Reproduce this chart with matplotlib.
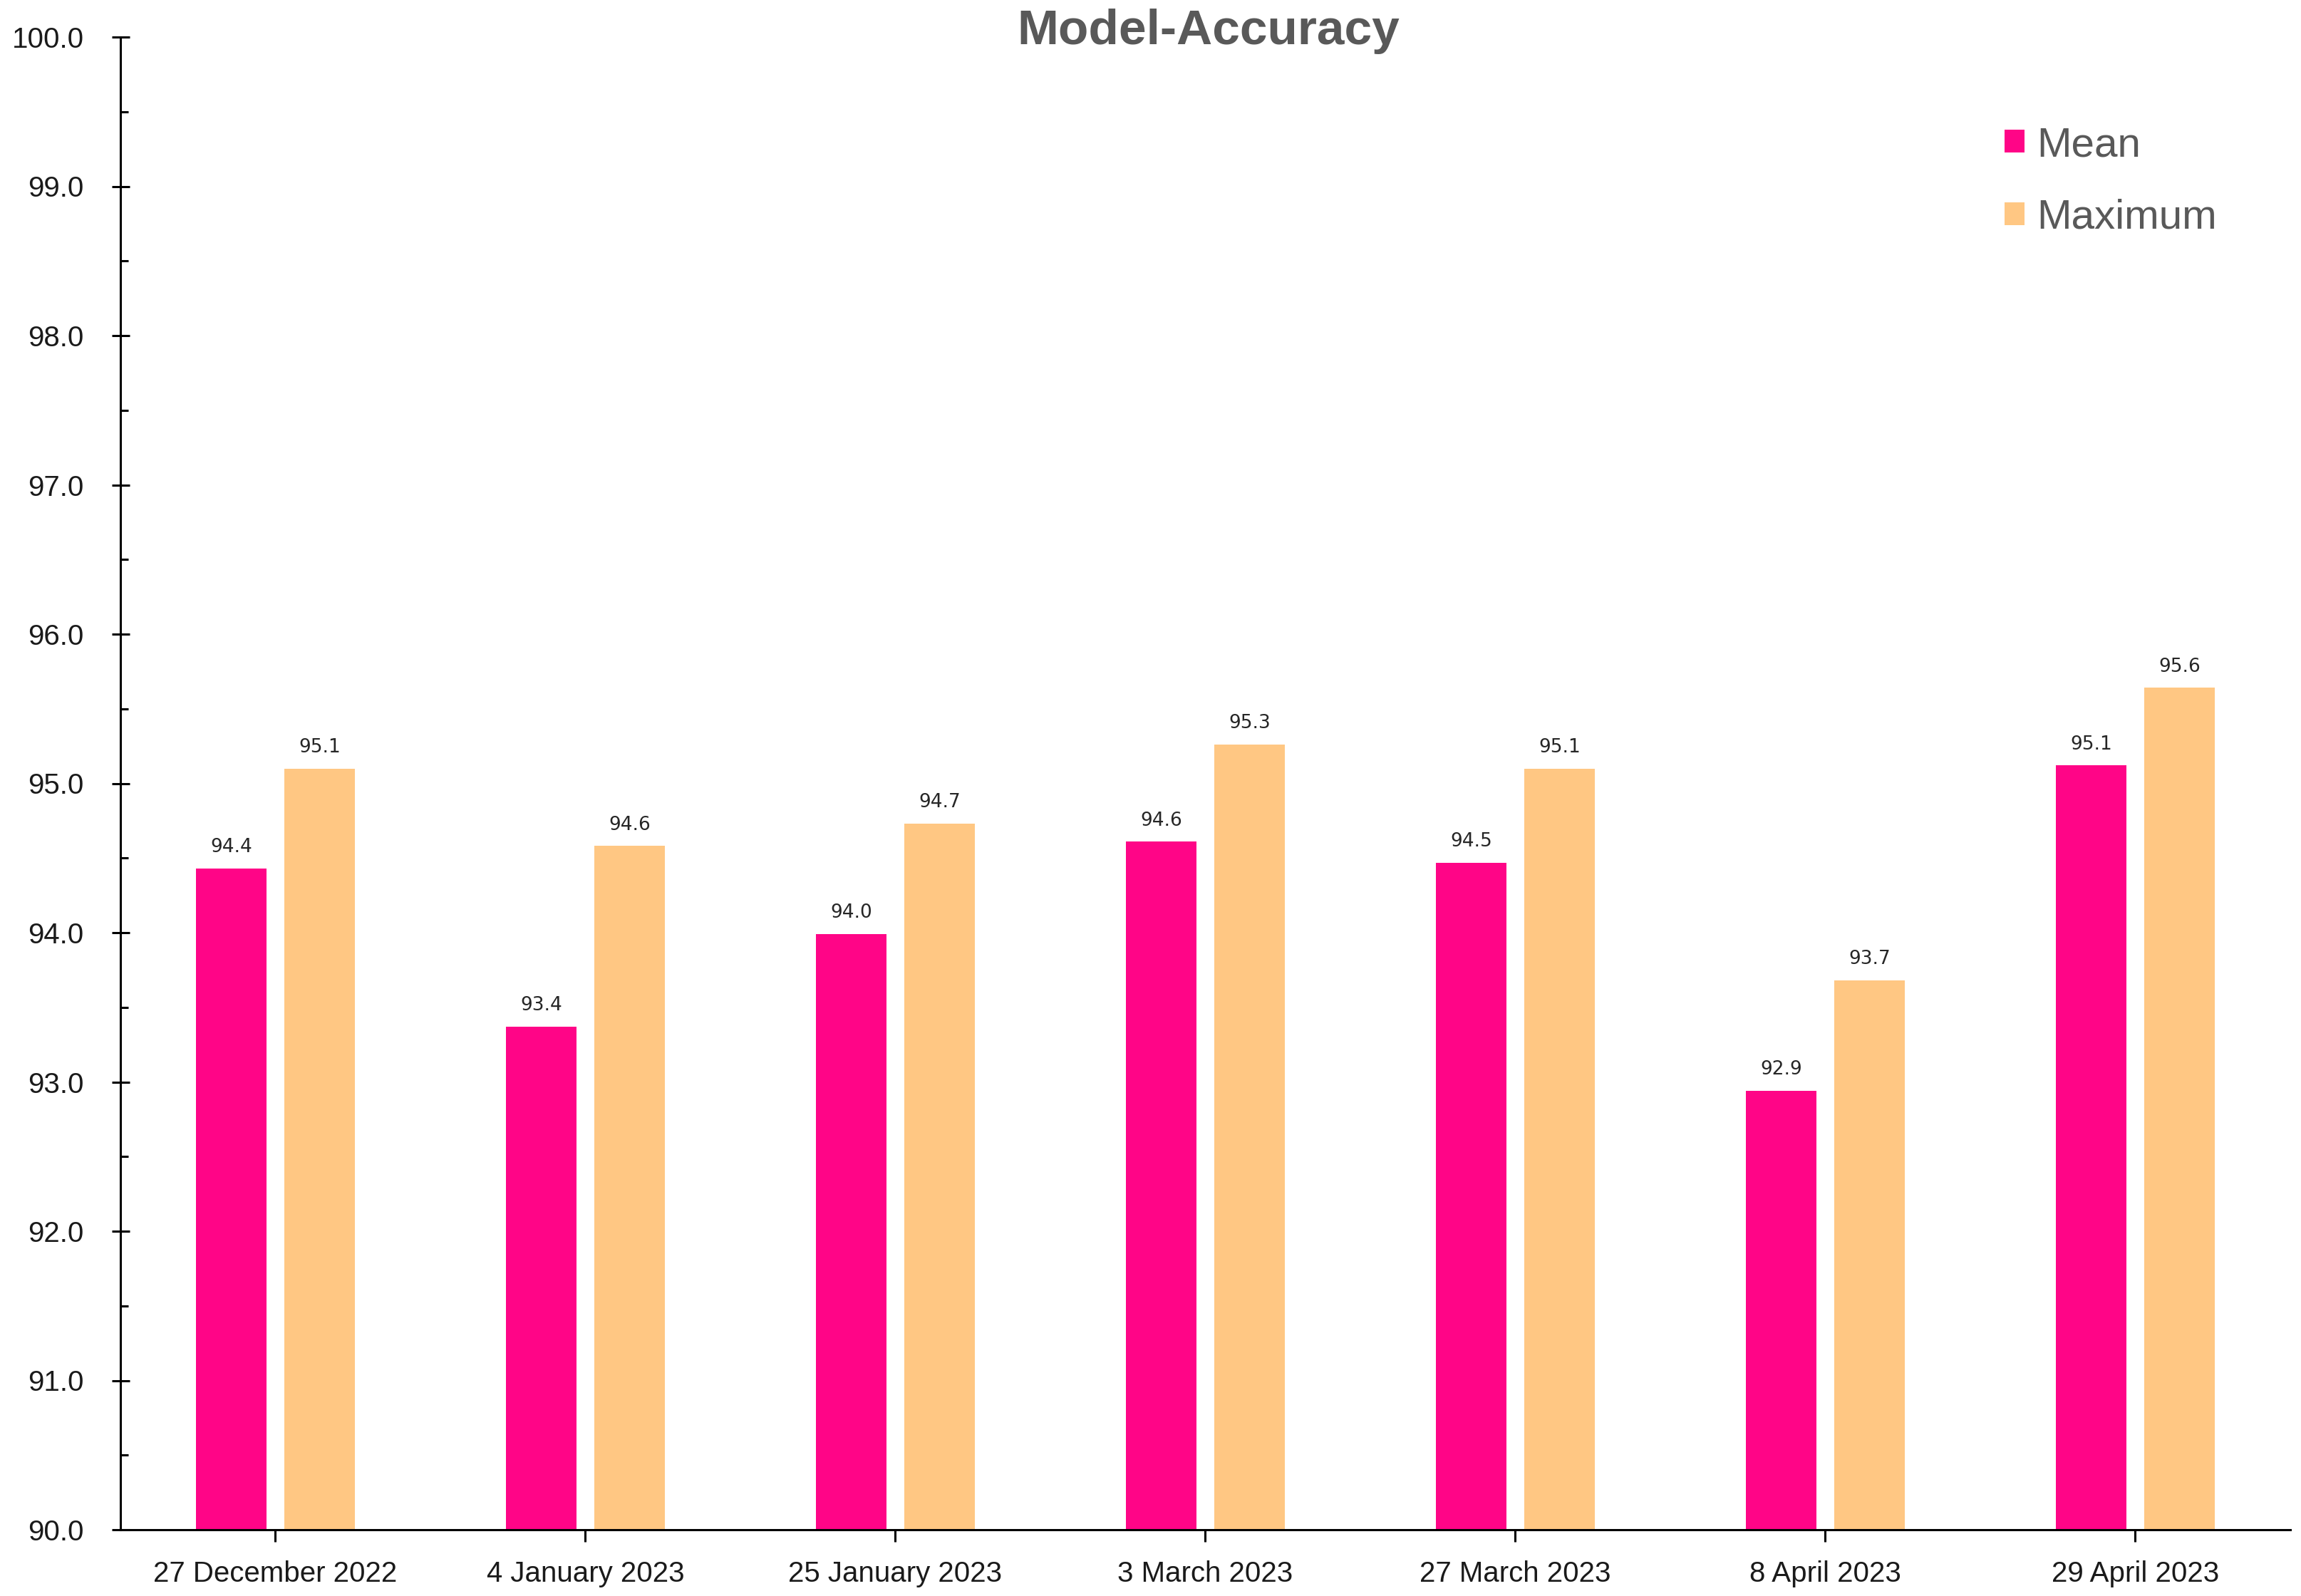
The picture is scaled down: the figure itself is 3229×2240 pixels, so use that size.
import matplotlib.pyplot as plt
import matplotlib.ticker as mticker
import numpy as np

dates = ['27 December 2022', '4 January 2023', '25 January 2023', '3 March 2023',
         '27 March 2023', '8 April 2023', '29 April 2023']
mean_acc = [94.43, 93.37, 93.99, 94.61, 94.47, 92.94, 95.12]
max_acc = [95.10, 94.58, 94.73, 95.26, 95.10, 93.68, 95.64]

PINK = '#FF0587'
ORANGE = '#FFC783'
GREY = '#595959'
tick_font = ['Liberation Sans', 'DejaVu Sans']

fig = plt.figure(figsize=(32.3, 22.4), dpi=100)
ax = fig.add_axes([169/3230, 1-2147/2240, (3214-169)/3230, (2147-52)/2240])

x = np.arange(len(dates))
w = 0.227
off = 0.142
b1 = ax.bar(x - off, [v - 90 for v in mean_acc], w, bottom=90, color=PINK, label='Mean')
b2 = ax.bar(x + off, [v - 90 for v in max_acc], w, bottom=90, color=ORANGE, label='Maximum')

for bars, vals in ((b1, mean_acc), (b2, max_acc)):
    for r, v in zip(bars, vals):
        ax.annotate(f'{v:.1f}', (r.get_x() + r.get_width()/2, v), xytext=(0, 12),
                    textcoords='offset points', ha='center', va='bottom',
                    fontsize=19, color='#262626', family='DejaVu Sans')

ax.set_xlim(-0.5, len(dates) - 0.5)
ax.set_ylim(90, 100)
ax.yaxis.set_major_locator(mticker.MultipleLocator(1))
ax.yaxis.set_minor_locator(mticker.MultipleLocator(0.5))
ax.yaxis.set_major_formatter(mticker.FormatStrFormatter('%.1f'))
ax.set_xticks(x)
ax.set_xticklabels(dates)

for s in ('top', 'right'):
    ax.spines[s].set_visible(False)
for s in ('left', 'bottom'):
    ax.spines[s].set_linewidth(2.2)

ax.tick_params(axis='y', which='major', direction='inout', length=18, width=2.2, pad=28)
ax.tick_params(axis='y', which='minor', direction='in', length=8, width=2.2)
ax.tick_params(axis='x', direction='out', length=12, width=2.2, pad=19)
for lab in ax.get_xticklabels() + ax.get_yticklabels():
    lab.set_family(tick_font)
    lab.set_fontsize(29)
    lab.set_color('#1a1a1a')

fig.text(0.525, 1 - 44/2240, 'Model-Accuracy', ha='center', va='center',
         fontsize=50, fontweight='bold', color=GREY, family=['Liberation Sans', 'DejaVu Sans'])

leg = ax.legend(loc='upper left', bbox_to_anchor=(2784/3230, 1 - 148/2240),
                bbox_transform=fig.transFigure, frameon=False, borderpad=0,
                handlelength=0.47, handleheight=0.47, handletextpad=0.3,
                labelspacing=0.82, prop={'family': ['Liberation Sans', 'DejaVu Sans'], 'size': 42})
for t in leg.get_texts():
    t.set_color(GREY)

fig.savefig('out.png', dpi=100)
